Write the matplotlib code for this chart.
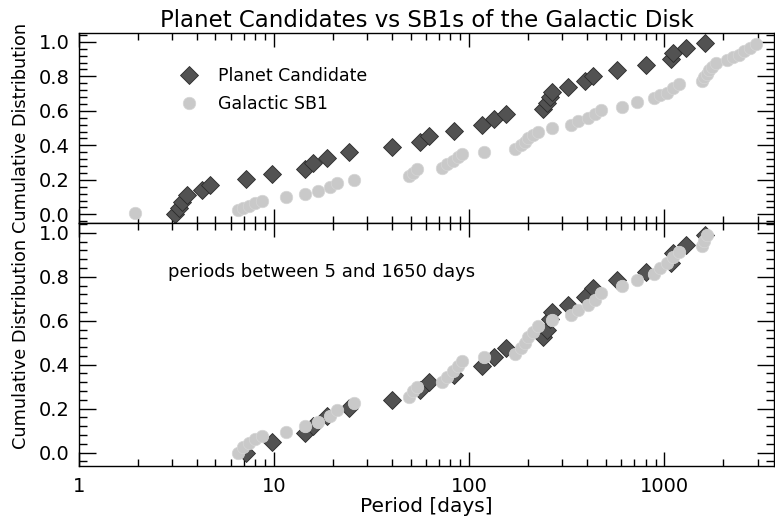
import numpy as np
import matplotlib
matplotlib.use('Agg')
import matplotlib.pyplot as plt
from matplotlib.ticker import MultipleLocator, LogLocator, NullFormatter, FixedLocator

# Planet candidates: periods [days] and cumulative fraction (all periods)
pc_period = [3.1, 3.25, 3.37, 3.58, 4.27, 4.7, 7.2, 9.8, 14.4, 15.8, 18.7, 24.3,
             40.3, 56, 62, 83.8, 116.6, 133, 155, 239, 250, 260, 265, 322,
             393, 432, 574, 800, 1074, 1100, 1282, 1622]
pc_cdf = [0.0, 0.035, 0.07, 0.11, 0.14, 0.17, 0.205, 0.235, 0.265, 0.295, 0.325, 0.36,
          0.39, 0.42, 0.455, 0.485, 0.515, 0.55, 0.58, 0.61, 0.645, 0.68, 0.71, 0.74,
          0.77, 0.80, 0.835, 0.865, 0.9, 0.935, 0.965, 0.995]

# Planet candidates with periods between 5 and 1650 days
pc_period_cut = [7.2, 9.8, 14.4, 15.8, 18.7, 24.3, 40.3, 56, 62, 83.8, 116.6, 133,
                 155, 239, 250, 260, 265, 322, 393, 432, 574, 800, 1074, 1100, 1282, 1622]
pc_cdf_cut = [0.0, 0.05, 0.09, 0.12, 0.165, 0.205, 0.24, 0.285, 0.32, 0.355, 0.395, 0.435,
              0.475, 0.525, 0.56, 0.61, 0.64, 0.67, 0.71, 0.75, 0.785, 0.82, 0.865, 0.91,
              0.945, 0.99]

# Galactic SB1s: periods [days] and cumulative fraction (all periods)
sb1_period = [1.94, 6.5, 6.9, 7.4, 8.0, 8.7, 11.5, 14.4, 16.8, 19.3, 21.0, 25.7,
              49, 51.5, 54, 72, 77, 82, 87, 92, 119, 172, 183, 192, 200, 212, 226,
              266, 330, 362, 404, 442, 470, 608, 722, 880, 950, 1030, 1110, 1180,
              1550, 1600, 1650, 1700, 1760, 1830, 2100, 2250, 2400, 2550, 2750, 2950]
sb1_cdf = [0.01, 0.025, 0.035, 0.05, 0.065, 0.08, 0.10, 0.12, 0.135, 0.16, 0.18, 0.20,
           0.22, 0.24, 0.26, 0.27, 0.29, 0.31, 0.33, 0.35, 0.36, 0.38, 0.40, 0.42, 0.44,
           0.46, 0.48, 0.50, 0.52, 0.54, 0.56, 0.58, 0.605, 0.625, 0.65, 0.675, 0.69,
           0.705, 0.73, 0.755, 0.775, 0.795, 0.815, 0.835, 0.855, 0.875, 0.895, 0.91,
           0.925, 0.945, 0.965, 0.99]

# Galactic SB1s with periods between 5 and 1650 days
sb1_period_cut = [6.5, 6.9, 7.4, 8.0, 8.7, 11.5, 14.4, 16.8, 19.3, 21.0, 25.7,
                  49, 51.5, 54, 72, 77, 82, 87, 92, 119, 172, 183, 192, 200, 212, 226,
                  266, 330, 362, 404, 442, 470, 608, 722, 880, 950, 1030, 1110, 1180,
                  1550, 1600, 1650]
sb1_cdf_cut = [0.0, 0.025, 0.045, 0.06, 0.075, 0.095, 0.12, 0.14, 0.165, 0.195, 0.225,
               0.255, 0.28, 0.30, 0.32, 0.345, 0.37, 0.395, 0.415, 0.435, 0.45, 0.475,
               0.50, 0.525, 0.55, 0.575, 0.605, 0.625, 0.65, 0.67, 0.695, 0.725, 0.76,
               0.785, 0.815, 0.84, 0.865, 0.89, 0.915, 0.94, 0.965, 0.99]

xticks = [1, 10, 100, 1000]
xtick_labels = ['1', '10', '100', '1000']

plt.rcParams['font.family'] = 'DejaVu Sans'
plt.rcParams['axes.linewidth'] = 1.0

fig = plt.figure(figsize=(7.75, 5.21), dpi=100)
ax1 = fig.add_axes([0.102, 0.572, 0.897, 0.365])
ax2 = fig.add_axes([0.102, 0.106, 0.897, 0.466])

pc_style = dict(linestyle='none', marker='D', markersize=9.5, color='#525252',
                markeredgecolor='#2a2a2a', markeredgewidth=0.6)
sb1_style = dict(linestyle='none', marker='o', markersize=9, color='#c9c9c9',
                 markeredgecolor='#d6d6d6', markeredgewidth=0.5)

ax1.plot(pc_period, pc_cdf, label='Planet Candidate', **pc_style)
ax1.plot(sb1_period, sb1_cdf, label='Galactic SB1', **sb1_style)

ax2.plot(pc_period_cut, pc_cdf_cut, **pc_style)
ax2.plot(sb1_period_cut, sb1_cdf_cut, **sb1_style)

for ax in (ax1, ax2):
    ax.set_xscale('log')
    ax.set_xlim(1, 3650)
    ax.xaxis.set_major_locator(FixedLocator(xticks))
    ax.xaxis.set_minor_locator(LogLocator(base=10, subs=np.arange(2, 10)))
    ax.xaxis.set_minor_formatter(NullFormatter())
    ax.yaxis.set_major_locator(MultipleLocator(0.2))
    ax.yaxis.set_minor_locator(MultipleLocator(0.04))
    ax.tick_params(which='both', direction='in', top=True, right=True, labelsize=14)
    ax.tick_params(which='major', axis='y', length=12, width=1)
    ax.tick_params(which='minor', axis='y', length=6, width=1)
    ax.tick_params(which='major', axis='x', length=10, width=1)
    ax.tick_params(which='minor', axis='x', length=5, width=1)
    ax.tick_params(axis='y', pad=7)
    ax.yaxis.set_major_formatter(plt.FuncFormatter(lambda v, p: '%.1f' % v))
    ax.set_ylabel('Cumulative Distribution', fontsize=12.8, labelpad=6)

ax1.set_ylim(-0.05, 1.052)
ax2.set_ylim(-0.06, 1.045)
ax1.tick_params(labelbottom=False)
ax2.set_xticklabels(xtick_labels)
ax2.tick_params(axis='x', pad=8)
ax2.set_xlabel('Period [days]', fontsize=14.5, labelpad=1)

ax1.set_title('Planet Candidates vs SB1s of the Galactic Disk', fontsize=16.5, pad=4)
ax1.legend(loc='upper left', bbox_to_anchor=(0.12, 0.90), frameon=False, numpoints=1,
           handlelength=1.2, handletextpad=1.1, labelspacing=0.55, fontsize=12.5)

ax2.text(0.128, 0.80, 'periods between 5 and 1650 days', transform=ax2.transAxes,
         fontsize=13, va='center', ha='left')

fig.savefig('out.png', dpi=100)
